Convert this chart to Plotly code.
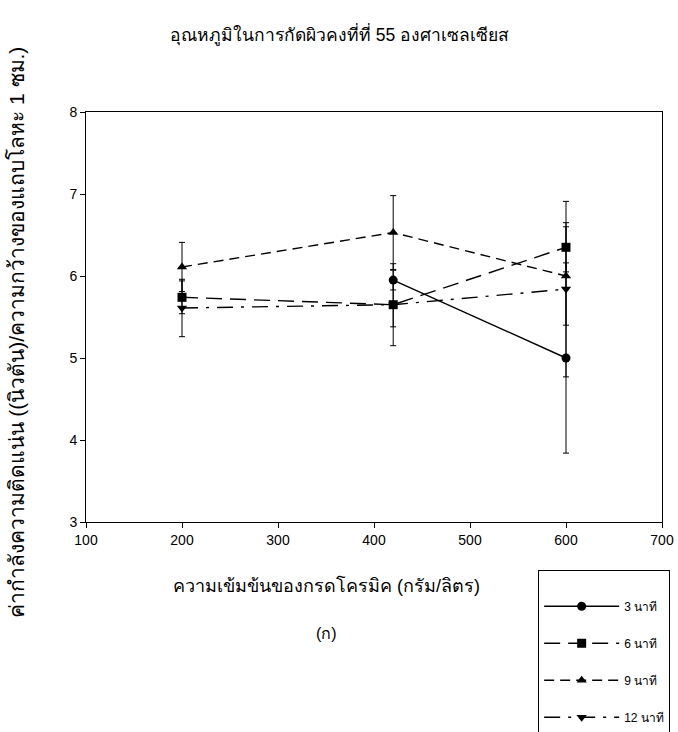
import plotly.graph_objects as go

# Chromic acid concentration (g/L) and peel strength for each etching time
conc = [200, 420, 600]

t3_conc = [420, 600]
t3_val = [5.95, 5.00]
t3_err = [0.12, 1.16]

t6_val = [5.74, 5.65, 6.35]
t6_err = [0.20, 0.50, 0.30]

t9_val = [6.11, 6.53, 6.00]
t9_err = [0.30, 0.45, 0.60]

t12_val = [5.61, 5.65, 5.84]
t12_err = [0.35, 0.27, 1.07]

series_names = ["3 นาที", "6 นาที", "9 นาที", "12 นาที"]

FONT = "Liberation Sans, Arial, sans-serif"

fig = go.Figure()


def add_series(x, y, err, name, symbol, dash, group):
    fig.add_trace(go.Scatter(
        x=x, y=y, name=name, mode="lines+markers",
        legendgroup=group,
        line=dict(color="black", width=1.4, dash=dash),
        marker=dict(symbol=symbol, size=9, color="black"),
        error_y=dict(type="data", array=err, visible=True,
                     color="black", thickness=1, width=3),
    ))


add_series(t3_conc, t3_val, t3_err, series_names[0], "circle", "solid", "a")
add_series(conc, t6_val, t6_err, series_names[1], "square", "16px,8px", "b")
add_series(conc, t9_val, t9_err, series_names[2], "triangle-up", "10px,6px", "c")
add_series(conc, t12_val, t12_err, series_names[3], "triangle-down", "16px,8px,3px,8px", "d")

axis_common = dict(
    showgrid=False, zeroline=False, showline=True, linecolor="black",
    linewidth=1, mirror=True, ticks="outside", ticklen=5, tickcolor="black",
    automargin=False,
    tickfont=dict(family=FONT, size=14, color="black"),
)

fig.update_xaxes(range=[100, 700], tickvals=[100, 200, 300, 400, 500, 600, 700],
                 **axis_common)
fig.update_yaxes(range=[3, 8], tickvals=[3, 4, 5, 6, 7, 8], **axis_common)

fig.update_layout(
    width=678, height=732,
    margin=dict(l=86, r=16, t=112, b=210, autoexpand=False),
    paper_bgcolor="white", plot_bgcolor="white",
    font=dict(family=FONT, color="black"),
    showlegend=True,
    legend=dict(
        x=0.785, y=-0.117, xanchor="left", yanchor="top",
        bordercolor="black", borderwidth=1, bgcolor="white",
        font=dict(family=FONT, size=12, color="black"),
        title=dict(text="&nbsp;", font=dict(size=16)),
        itemwidth=75,
        tracegroupgap=18, traceorder="grouped",
    ),
    annotations=[
        dict(text="อุณหภูมิในการกัดผิวคงที่ที่ 55 องศาเซลเซียส",
             xref="paper", yref="paper", x=0.44, y=1.188,
             xanchor="center", yanchor="middle",
             showarrow=False, font=dict(size=17.5, family=FONT)),
        dict(text="ความเข้มข้นของกรดโครมิค (กรัม/ลิตร)",
             xref="paper", yref="paper", x=0.417, y=-0.155,
             xanchor="center", yanchor="middle",
             showarrow=False, font=dict(size=18, family=FONT)),
        dict(text="(ก)", xref="paper", yref="paper", x=0.418, y=-0.271,
             xanchor="center", yanchor="middle",
             showarrow=False, font=dict(size=16, family=FONT)),
        dict(text="ค่ากำลังความติดแน่น ((นิวตัน)/ความกว้างของแถบโลหะ 1 ซม.)",
             xref="paper", yref="paper", x=-0.12, y=0.462, textangle=-90,
             xanchor="center", yanchor="middle",
             showarrow=False, font=dict(size=21, family=FONT)),
    ],
)

fig.write_html("out.html")
